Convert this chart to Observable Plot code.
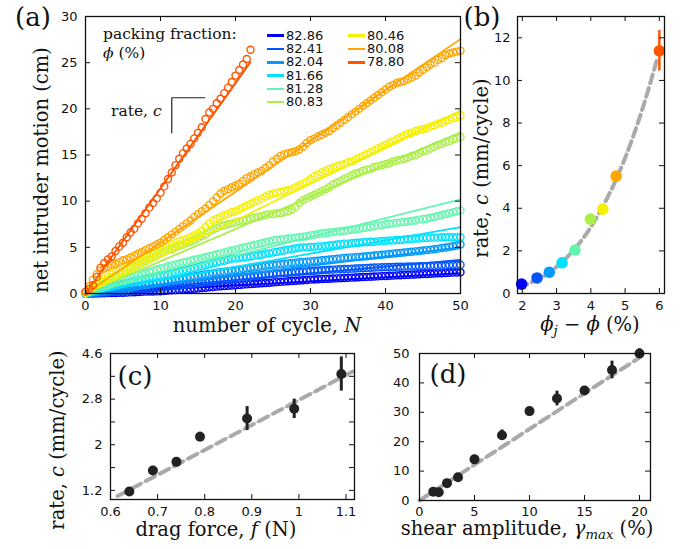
<!DOCTYPE html>
<html><head><meta charset="utf-8">
<script src="https://cdn.jsdelivr.net/npm/d3@7"></script>
<script src="https://cdn.jsdelivr.net/npm/@observablehq/plot@0.6"></script>
<style>
body{margin:0;background:#fff;}
#fig{position:relative;width:684px;height:549px;overflow:hidden;font-family:"DejaVu Serif",serif;color:#111;background:#fff;}
#fig svg{position:absolute;}
.t{position:absolute;white-space:nowrap;line-height:1;}
.lab{font-size:19.5px;}
.rot{transform:translate(-50%,-50%) rotate(-90deg);}
.ctr{transform:translate(-50%,-50%);}
.pan{font-size:26px;}
.leg{font-family:"DejaVu Sans",sans-serif;font-size:13px;line-height:12px;display:flex;align-items:center;height:12px;}
.leg span.sw{display:inline-block;width:17px;height:2.6px;margin-right:2px;}
sub{font-size:0.68em;vertical-align:-0.25em;}
</style></head><body><div id="fig"></div>
<script>
// ---------- data ----------
const phiLabels = ["82.86","82.41","82.04","81.66","81.28","80.83","80.46","80.08","78.80"];
const seriesColors = ["#0000ff","#0055ff","#0099ff","#00e0ff","#66f5b0","#aaef48","#f5f000","#ffa500","#ff5500"];
const cycleStep = 0.5;
const motion_8286 = [0,0,0,0.01,0.02,0.03,0.04,0.05,0.06,0.07,0.08,
 0.1,0.12,0.14,0.16,0.18,0.2,0.21,0.22,0.23,0.25,
 0.28,0.31,0.34,0.37,0.4,0.43,0.46,0.49,0.52,0.55,
 0.59,0.63,0.67,0.71,0.75,0.78,0.81,0.84,0.87,0.9,
 0.93,0.96,0.99,1.02,1.05,1.08,1.11,1.14,1.17,1.2,
 1.23,1.26,1.29,1.32,1.35,1.38,1.41,1.44,1.47,1.5,
 1.52,1.54,1.56,1.58,1.6,1.62,1.64,1.66,1.68,1.7,
 1.72,1.74,1.76,1.78,1.8,1.82,1.84,1.86,1.88,1.9,
 1.92,1.94,1.96,1.98,2.0,2.02,2.04,2.06,2.08,2.1,
 2.12,2.14,2.16,2.18,2.2,2.22,2.24,2.26,2.28,2.3];
const motion_8241 = [0,0.02,0.04,0.06,0.08,0.1,0.12,0.15,0.18,0.21,0.24,
 0.27,0.3,0.34,0.38,0.42,0.46,0.5,0.54,0.58,0.62,
 0.67,0.72,0.77,0.82,0.87,0.92,0.97,1.02,1.07,1.12,
 1.17,1.22,1.28,1.33,1.38,1.44,1.49,1.54,1.58,1.62,
 1.67,1.72,1.77,1.82,1.87,1.92,1.97,2.02,2.07,2.12,
 2.16,2.19,2.22,2.25,2.28,2.31,2.34,2.37,2.4,2.43,
 2.46,2.49,2.52,2.55,2.57,2.59,2.61,2.63,2.65,2.67,
 2.69,2.71,2.73,2.75,2.77,2.79,2.81,2.83,2.85,2.86,
 2.87,2.88,2.89,2.9,2.91,2.92,2.93,2.94,2.95,2.96,
 2.97,2.98,2.99,3.0,3.02,3.04,3.06,3.08,3.09,3.1];
const motion_8204 = [0,0.05,0.1,0.15,0.2,0.25,0.3,0.35,0.4,0.45,0.5,
 0.55,0.62,0.7,0.78,0.85,0.92,0.98,1.05,1.12,1.18,
 1.25,1.32,1.4,1.48,1.55,1.63,1.7,1.78,1.86,1.94,
 2.0,2.06,2.12,2.18,2.24,2.3,2.36,2.42,2.47,2.52,
 2.58,2.64,2.7,2.76,2.82,2.88,2.94,3.0,3.06,3.1,
 3.14,3.18,3.22,3.26,3.3,3.34,3.38,3.42,3.45,3.48,
 3.52,3.56,3.6,3.64,3.68,3.72,3.76,3.8,3.84,3.88,
 3.91,3.94,3.97,4.0,4.04,4.08,4.12,4.16,4.2,4.24,
 4.28,4.32,4.36,4.4,4.44,4.48,4.52,4.56,4.6,4.65,
 4.7,4.75,4.8,4.86,4.92,4.98,5.05,5.12,5.2,5.3];
const motion_8166 = [0,0.1,0.2,0.3,0.45,0.55,0.65,0.75,0.85,0.95,1.05,
 1.15,1.25,1.35,1.45,1.5,1.6,1.7,1.75,1.85,1.9,
 2.0,2.05,2.15,2.25,2.35,2.45,2.55,2.65,2.75,2.85,
 2.95,3.05,3.15,3.25,3.35,3.45,3.55,3.65,3.75,3.8,
 3.85,3.9,3.95,4.0,4.1,4.15,4.2,4.3,4.35,4.45,
 4.5,4.6,4.65,4.75,4.8,4.9,4.95,5.0,5.0,5.05,
 5.05,5.1,5.1,5.15,5.2,5.25,5.3,5.35,5.4,5.4,
 5.45,5.5,5.5,5.55,5.55,5.6,5.6,5.65,5.7,5.7,
 5.75,5.75,5.8,5.8,5.85,5.9,5.9,5.95,5.95,6.0,
 6.0,6.05,6.05,6.05,6.1,6.1,6.1,6.1,6.1,6.1];
const motion_8128 = [0,0.15,0.3,0.45,0.6,0.75,0.9,1.05,1.2,1.3,1.45,
 1.6,1.7,1.85,2.0,2.1,2.2,2.35,2.45,2.6,2.7,
 2.8,2.95,3.05,3.15,3.25,3.35,3.45,3.55,3.65,3.75,
 3.85,3.95,4.05,4.15,4.25,4.35,4.45,4.55,4.65,4.75,
 4.85,4.95,5.05,5.15,5.25,5.35,5.45,5.55,5.65,5.75,
 5.8,5.85,5.9,5.95,6.0,6.05,6.1,6.15,6.2,6.3,
 6.35,6.45,6.5,6.55,6.6,6.65,6.7,6.75,6.8,6.85,
 6.9,6.95,7.0,7.1,7.15,7.2,7.3,7.35,7.4,7.5,
 7.55,7.6,7.65,7.7,7.75,7.8,7.85,7.9,8.0,8.05,
 8.1,8.2,8.3,8.4,8.5,8.6,8.7,8.8,8.9,9.0];
const motion_8083 = [0.1,0.3,0.6,0.9,1.1,1.3,1.5,1.7,1.9,2.1,2.3,
 2.5,2.7,2.9,3.1,3.3,3.5,3.7,3.9,4.1,4.3,
 4.5,4.7,4.8,5.0,5.2,5.3,5.5,5.6,5.8,6.0,
 6.2,6.4,6.7,6.9,7.1,7.3,7.4,7.5,7.6,7.7,
 7.8,7.9,8.0,8.1,8.2,8.3,8.4,8.5,8.6,8.6,
 8.7,8.7,8.8,8.9,9.1,9.4,9.8,10.1,10.3,10.5,
 10.7,10.9,11.1,11.3,11.5,11.8,12.0,12.2,12.4,12.6,
 12.8,13.0,13.1,13.3,13.4,13.5,13.7,13.8,13.9,14.0,
 14.1,14.3,14.4,14.5,14.6,14.7,14.9,15.0,15.2,15.4,
 15.5,15.7,15.9,16.1,16.2,16.4,16.5,16.7,16.8,16.95];
const motion_8046 = [0.1,0.4,0.7,1.0,1.3,1.6,1.8,2.1,2.3,2.5,2.7,
 2.9,3.1,3.3,3.5,3.7,3.9,4.1,4.3,4.5,4.7,
 4.9,5.1,5.3,5.5,5.7,5.8,5.9,6.1,6.3,6.5,
 6.8,7.2,7.6,7.9,8.1,8.3,8.5,8.6,8.8,8.9,
 9.1,9.3,9.5,9.7,9.9,10.1,10.3,10.5,10.7,10.8,
 10.9,11.0,11.1,11.2,11.3,11.5,11.7,11.9,12.1,12.4,
 12.7,12.9,13.1,13.3,13.5,13.6,13.8,13.9,14.0,14.2,
 14.3,14.5,14.7,14.9,15.1,15.3,15.5,15.7,15.9,16.1,
 16.3,16.5,16.7,16.9,17.1,17.3,17.4,17.6,17.7,17.8,
 17.9,18.1,18.2,18.4,18.5,18.7,18.8,19.0,19.1,19.3];
const motion_8008 = [0.2,0.8,1.5,2.1,2.5,2.7,2.9,3.1,3.2,3.4,3.6,
 3.7,3.9,4.1,4.3,4.5,4.7,4.9,5.1,5.3,5.5,
 5.8,6.1,6.4,6.7,7.0,7.3,7.6,7.9,8.3,8.6,
 8.9,9.2,9.6,10.0,10.4,10.8,11.1,11.3,11.5,11.7,
 11.9,12.2,12.5,12.7,12.9,13.1,13.3,13.6,13.9,14.3,
 14.6,14.9,15.1,15.2,15.3,15.4,15.6,15.9,16.3,16.6,
 16.8,17.0,17.2,17.4,17.6,17.9,18.2,18.5,18.8,19.1,
 19.4,19.7,20.0,20.3,20.6,20.9,21.2,21.5,21.8,22.1,
 22.4,22.6,22.8,22.9,23.0,23.2,23.4,23.6,23.9,24.2,
 24.5,24.8,25.0,25.3,25.5,25.8,26.0,26.1,26.2,26.3];
const motion_7880 = [0.2,0.5,0.9,1.8,2.8,3.3,3.7,4.0,4.6,5.1,5.5,
 6.1,6.6,7.0,7.6,8.1,8.7,9.3,9.8,10.3,10.9,
 11.6,12.4,13.1,13.9,14.6,15.2,15.7,16.2,16.8,17.4,
 18.0,18.9,19.6,20.0,20.6,21.1,21.7,22.3,22.9,23.6,
 24.2,24.8,25.4,26.4];
const motionSeries = [motion_8286,motion_8241,motion_8204,motion_8166,motion_8128,motion_8083,motion_8046,motion_8008,motion_7880];
// panel (b): rate vs phi_j - phi
const phiGap = [1.98,2.43,2.79,3.16,3.54,3.99,4.35,4.74,6.0];
const rates = [0.44,0.73,1.0,1.44,2.04,3.49,3.96,5.51,11.39];   // mm/cycle
const rateErr = [0,0,0,0,0,0,0,0,0.95];
const bFitX = [1.9,2.5,3,3.5,4,4.5,5,5.5,5.95];
const bFitY = [0.29,0.70,1.25,2.04,3.12,4.55,6.36,8.63,11.09];
// panel (a) slope annotation (data units)
const bracketN = [15.9,11.5,11.5];
const bracketCm = [21.2,21.2,17.4];
// panel (c)
const dragForce = [0.64,0.69,0.74,0.79,0.89,0.99,1.09];
const dragRate = [1.18,1.55,1.70,2.14,2.46,2.63,3.24];
const dragErr = [0.04,0.07,0.04,0.08,0.21,0.17,0.30];
const cFitX = [0.615,1.118];
const cFitY = [1.10,3.30];
// panel (d)
const shearAmp = [1.25,1.75,2.5,3.5,5,7.5,10,12.5,15,17.5,20];
const shearRate = [3.0,2.8,5.9,7.9,14.0,22.2,30.4,34.7,37.4,44.4,50.0];
const shearErr = [0.5,0.5,0.5,0.8,0.8,1.8,1.2,2.5,0.8,3.0,1.6];
const dFitX = [0,20.2];
const dFitY = [0,49.1];
// ticks
const aTicksX = [0,10,20,30,40,50], aTicksY = [0,5,10,15,20,25,30];
const bTicksX = [2,3,4,5,6], bTicksY = [0,2,4,6,8,10,12];
const cTicksX = [0.6,0.7,0.8,0.9,1.0,1.1], cTicksY = [1.2,2.0,2.8,3.6], cTickLabels = ["1.2","2","2.8","4.6"], cMinorY = [1.6,2.4,3.2];
const dTicksX = [0,5,10,15,20], dTicksY = [0,10,20,30,40,50];

// ---------- helpers ----------
const fig = document.getElementById("fig");
const fmt = d => String(+(+d).toFixed(2));
const style = {fontFamily: "DejaVu Sans", fontSize: "13px", color: "#111", background: "transparent", overflow: "visible"};
// frame + labels + inward ticks (about 5 px) on all four sides; tick length converted to data units of each scale
function frameAxes(tx, ty, xdom, ydom, fw, fh, opts = {}) {
  const L = 5;
  const lx = (xdom[1] - xdom[0]) * L / fw, ly = (ydom[1] - ydom[0]) * L / fh;
  const tks = {stroke: "#111", strokeWidth: 1};
  const yTicks = ty.concat(opts.minorY || []);
  return [
    Plot.ruleX(tx, {x: d => d, y1: ydom[0], y2: ydom[0] + ly, ...tks}),
    Plot.ruleX(tx, {x: d => d, y1: ydom[1] - ly, y2: ydom[1], ...tks}),
    Plot.ruleY(yTicks, {y: d => d, x1: xdom[0], x2: xdom[0] + lx, ...tks}),
    Plot.ruleY(yTicks, {y: d => d, x1: xdom[1] - lx, x2: xdom[1], ...tks}),
    Plot.frame({stroke: "#111", strokeWidth: 1.3}),
    Plot.axisX(tx, {anchor: "bottom", tickSize: 0, tickPadding: opts.xpad ?? 7, tickFormat: fmt, label: null}),
    Plot.axisY(ty, {anchor: "left", tickSize: 0, tickPadding: opts.ypad ?? 8, tickFormat: opts.yfmt ?? fmt, label: null})
  ];
}
function place(svg, left, top) { svg.style.left = left + "px"; svg.style.top = top + "px"; fig.appendChild(svg); }
function txt(html, x, y, cls, extra) {
  const d = document.createElement("div");
  d.className = "t " + cls; d.innerHTML = html;
  d.style.left = x + "px"; d.style.top = y + "px";
  if (extra) Object.assign(d.style, extra);
  fig.appendChild(d); return d;
}

// ---------- panel (a) ----------
const aX = [0, 50], aY = [0, 30];
const seriesList = phiLabels.map((phi, i) => ({phi, color: seriesColors[i], values: motionSeries[i], rate: rates[i], nMax: (motionSeries[i].length - 1) * cycleStep}));
const plotA = Plot.plot({
  width: 470, height: 320, marginLeft: 85, marginRight: 10, marginTop: 16, marginBottom: 27,
  style, x: {domain: aX, label: null}, y: {domain: aY, label: null},
  marks: [
    ...seriesList.flatMap(s => [
      Plot.dot(s.values, {x: (d, j) => j * cycleStep, y: d => d, stroke: s.color, r: 3.5, strokeWidth: 1.4}),
      Plot.line([0, s.nMax], {x: d => d, y: d => d * s.rate / 10, stroke: s.color, strokeWidth: 1.8})
    ]),
    Plot.line(bracketN.map((n, i) => ({n, c: bracketCm[i]})), {x: "n", y: "c", stroke: "#222", strokeWidth: 1.2}),
    ...frameAxes(aTicksX, aTicksY, aX, aY, 375, 277)
  ]
});
place(plotA, 0, 0);

// ---------- panel (b) ----------
const bX = [1.86, 6.15], bY = [0, 13];
const bRows = phiGap.map((g, i) => ({g, c: rates[i], e: rateErr[i], color: seriesColors[i]}));
const plotB = Plot.plot({
  width: 214, height: 320, marginLeft: 47, marginRight: 20, marginTop: 16, marginBottom: 27,
  style, x: {domain: bX, label: null}, y: {domain: bY, label: null}, color: {type: "identity"},
  marks: [
    Plot.line(bFitX.map((x, i) => ({x, y: bFitY[i]})), {x: "x", y: "y", stroke: "#aaa", strokeWidth: 4, strokeDasharray: "9,5", curve: "natural"}),
    Plot.dot(bRows, {x: "g", y: "c", fill: "color", r: 5.8}),
    Plot.ruleX(bRows.filter(d => d.e > 0), {x: "g", y1: d => d.c - d.e, y2: d => d.c + d.e, stroke: "color", strokeWidth: 2.5}),
    ...frameAxes(bTicksX, bTicksY, bX, bY, 147, 277, {ypad: 7})
  ]
});
place(plotB, 470, 0);

// ---------- panel (c) ----------
const cX = [0.6, 1.118], cY = [1.04, 3.6];
const cRows = dragForce.map((f, i) => ({f, c: dragRate[i], e: dragErr[i]}));
const cFit = cFitX.map((x, i) => ({x, y: cFitY[i]}));
const plotC = Plot.plot({
  width: 370, height: 219, marginLeft: 110, marginRight: 16, marginTop: 23, marginBottom: 50,
  style, x: {domain: cX, label: null}, y: {domain: cY, label: null},
  marks: [
    Plot.line(cFit, {x: "x", y: "y", stroke: "#bbb", strokeWidth: 1}),
    Plot.line(cFit, {x: "x", y: "y", stroke: "#aaa", strokeWidth: 4, strokeDasharray: "10,6"}),
    Plot.ruleX(cRows, {x: "f", y1: d => d.c - d.e, y2: d => d.c + d.e, stroke: "#222", strokeWidth: 3}),
    Plot.dot(cRows, {x: "f", y: "c", fill: "#222", r: 5}),
    ...frameAxes(cTicksX, cTicksY, cX, cY, 244, 146, {yfmt: (d, i) => cTickLabels[i], minorY: cMinorY})
  ]
});
place(plotC, 0, 330);

// ---------- panel (d) ----------
const dX = [0, 21], dY = [0, 50];
const dRows = shearAmp.map((a, i) => ({a, c: shearRate[i], e: shearErr[i]}));
const dFit = dFitX.map((x, i) => ({x, y: dFitY[i]}));
const plotD = Plot.plot({
  width: 314, height: 219, marginLeft: 49, marginRight: 34, marginTop: 23, marginBottom: 49,
  style, x: {domain: dX, label: null}, y: {domain: dY, label: null},
  marks: [
    Plot.line(dFit, {x: "x", y: "y", stroke: "#bbb", strokeWidth: 1}),
    Plot.line(dFit, {x: "x", y: "y", stroke: "#aaa", strokeWidth: 4, strokeDasharray: "10,6"}),
    Plot.ruleX(dRows, {x: "a", y1: d => d.c - d.e, y2: d => d.c + d.e, stroke: "#222", strokeWidth: 3}),
    Plot.dot(dRows, {x: "a", y: "c", fill: "#222", r: 5}),
    ...frameAxes(dTicksX, dTicksY, dX, dY, 231, 147, {xpad: 6, ypad: 10})
  ]
});
place(plotD, 370, 330);

// ---------- text overlays ----------
txt("(a)", 33, 17, "pan ctr");
txt("(b)", 482, 17, "pan ctr");
txt("(c)", 135, 376, "pan ctr");
txt("(d)", 448, 374, "pan ctr");
txt("net intruder motion (cm)", 42, 170, "lab rot");
txt("number of cycle, <i>N</i>", 267, 326, "lab ctr");
txt("rate, <i>c</i> (mm/cycle)", 482, 168, "lab rot");
txt("<i>ϕ<sub>j</sub></i> − <i>ϕ</i> (%)", 590, 326, "lab ctr");
txt("rate, <i>c</i> (mm/cycle)", 58, 440, "lab rot");
txt("drag force, <i>f</i> (N)", 216, 530, "lab ctr");
txt("shear amplitude, <i>γ<sub>max</sub></i> (%)", 527, 530, "lab ctr");
txt("packing fraction:", 103, 27, "", {fontSize: "15.5px"});
txt("<i>ϕ</i> (%)", 103, 46, "", {fontSize: "15.5px"});
txt("rate, <i>c</i>", 111, 104, "", {fontSize: "15.5px"});
phiLabels.forEach((phi, i) => {
  const col = i < 6 ? 0 : 1, row = i < 6 ? i : i - 6;
  const x = col === 0 ? 267 : 348;
  const y = 35.7 + row * 13.3 - 6;
  txt(`<span class="sw" style="background:${seriesColors[i]}"></span>${phi}`, x, y, "leg");
});
</script></body></html>
